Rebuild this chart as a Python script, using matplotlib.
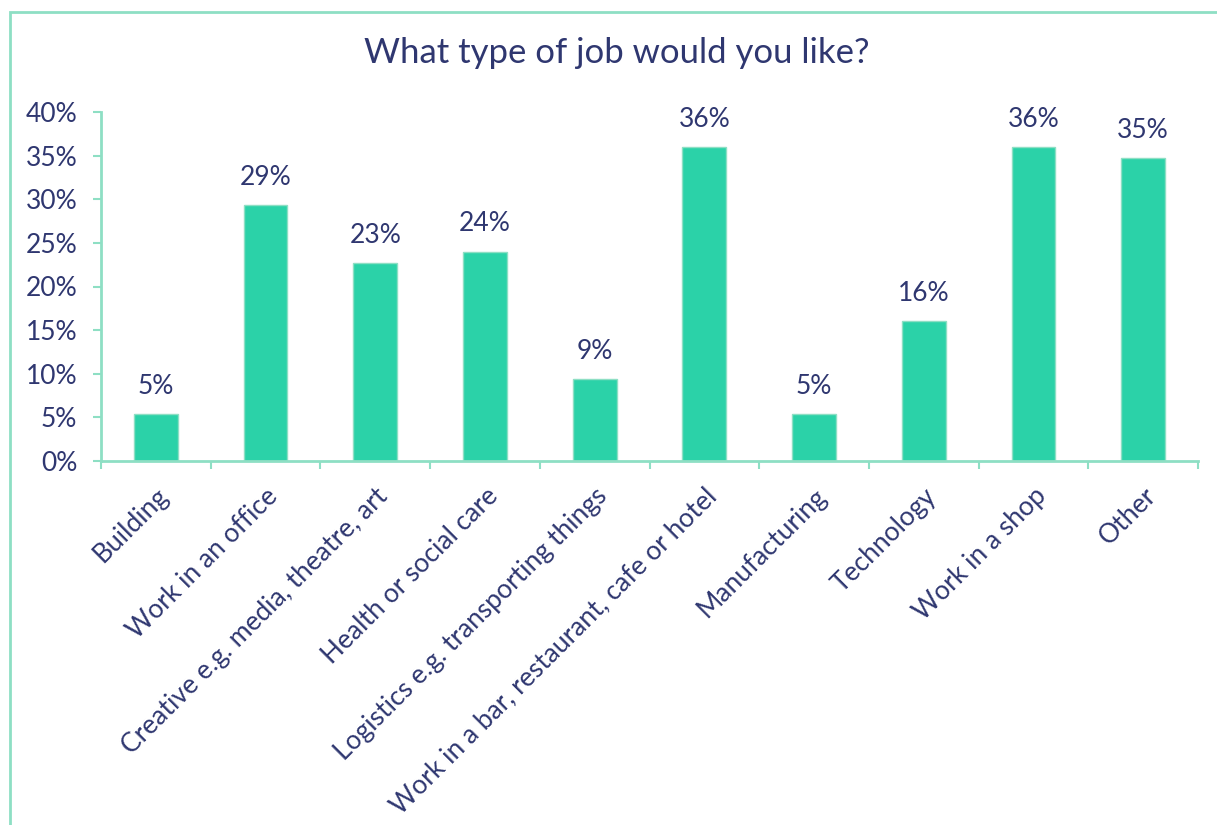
import matplotlib.pyplot as plt
from matplotlib.patches import Rectangle
from matplotlib.ticker import PercentFormatter

# Survey data
categories = ['Building', 'Work in an office', 'Creative e.g. media, theatre, art',
              'Health or social care', 'Logistics e.g. transporting things',
              'Work in a bar, restaurant, cafe or hotel', 'Manufacturing',
              'Technology', 'Work in a shop', 'Other']
values = [5.4, 29.3, 22.7, 24.0, 9.4, 36.0, 5.4, 16.0, 36.0, 34.7]
yticks = [0, 5, 10, 15, 20, 25, 30, 35, 40]

bar_color = '#2BD2A8'
line_color = '#8EDFC4'
text_color = '#2F3770'

plt.rcParams['font.family'] = ['Lato', 'DejaVu Sans']

fig = plt.figure(figsize=(12.17, 8.25), dpi=100)
W, H = 1217, 825
ax = fig.add_axes([101 / W, 1 - 461 / H, 1097 / W, 349 / H])

# outer chart border (cropped on the right and bottom)
fig.patches.append(Rectangle((10 / W, -0.05), 1.2, 1 - 12 / H + 0.05,
                             transform=fig.transFigure, fill=False,
                             edgecolor=line_color, linewidth=2))

x = range(len(categories))
bars = ax.bar(x, values, width=0.4, color=bar_color, edgecolor=line_color, linewidth=1)
for b, v in zip(bars, values):
    ax.annotate('%d%%' % round(v), (b.get_x() + b.get_width() / 2, v),
                xytext=(0, 11), textcoords='offset points',
                ha='center', va='bottom', fontsize=19, color=text_color)

ax.set_xlim(-0.5, len(categories) - 0.5)
ax.set_ylim(0, 40)
ax.set_yticks(yticks)
ax.yaxis.set_major_formatter(PercentFormatter(decimals=0))

# ticks sit between categories, labels centred under the bars
ax.set_xticks([i - 0.5 for i in range(len(categories) + 1)], minor=False)
ax.set_xticklabels([])
ax.set_xticks(list(x), minor=True)
ax.set_xticklabels(categories, minor=True, rotation=45, ha='right',
                   rotation_mode='anchor', fontsize=19, color=text_color)
ax.tick_params(axis='x', which='minor', length=0, pad=16)
ax.tick_params(axis='x', which='major', length=6, width=1.5, color=line_color)
ax.tick_params(axis='y', length=6, width=1.5, color=line_color,
               labelsize=19, labelcolor=text_color, pad=11)

for s in ['top', 'right']:
    ax.spines[s].set_visible(False)
for s in ['left', 'bottom']:
    ax.spines[s].set_color(line_color)
    ax.spines[s].set_linewidth(2)

fig.text(617 / W, 1 - 53 / H, 'What type of job would you like?',
         ha='center', va='center', fontsize=25, color=text_color)

fig.savefig('out.png', dpi=100)
